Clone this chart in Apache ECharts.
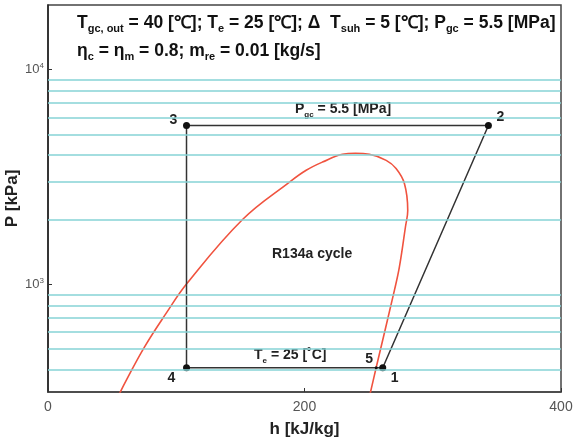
<!DOCTYPE html>
<html>
<head>
<meta charset="UTF-8">
<title>R134a cycle P-h</title>
<script src="https://cdn.jsdelivr.net/npm/echarts@6/dist/echarts.min.js"></script>
<style>html,body{margin:0;padding:0;background:#fff}#main{width:575px;height:441px}</style>
</head>
<body>
<div id="main"></div>
<script>
// saturation dome (h kJ/kg, P kPa)
var domeH = [54.5, 61.1, 75.3, 92.2, 108.3, 151.9, 188.3, 201.3, 214.0, 229.6, 239.7, 250.6, 263.7, 271.4, 277.9, 280.5, 278.7, 274.0, 270.1, 255.9, 250.6];
var domeP = [300, 359, 513, 736, 1011, 2014, 2999, 3404, 3716, 4037, 4083, 4037, 3784, 3467, 2952, 2213, 1853, 1208, 940, 411, 300];

// cycle states 1 -> 2 -> 3 -> 4 -> 5 -> 1
var cycleNames = ['1', '2', '3', '4', '5', '1'];
var cycleH = [261, 343.4, 108, 108, 255.9, 261];
var cycleP = [410, 5500, 5500, 410, 410, 410];

// cyan pressure lines
var isobarP = [300, 400, 500, 600, 700, 800, 900, 2000, 3000, 4000, 5000, 6000, 7000, 8000, 9000];

var xTicks = [0, 200, 400];

var labelOffsets = {
    0: [12, 10], 1: [12, -8], 2: [-13, -5], 3: [-15, 10], 4: [-7, -9]
};

var myChart = echarts.init(document.getElementById('main'));

var domeData = domeH.map(function (h, i) { return [h, domeP[i]]; });
var cycleData = cycleH.map(function (h, i) {
    var last = i === cycleH.length - 1;
    return {
        name: cycleNames[i],
        value: [h, cycleP[i]],
        symbolSize: last ? 0 : (i === 4 ? 3 : 7),
        label: {
            show: !last,
            offset: labelOffsets[i] || [0, 0]
        }
    };
});

var F = 'Liberation Sans, Arial, sans-serif';

function sub(size, color) {
    return {
        n: { fontFamily: F, fontSize: size, fontWeight: 'bold', fill: color, lineHeight: size + 5 },
        s: { fontFamily: F, fontSize: Math.round(size * 0.6), fontWeight: 'bold', fill: color, lineHeight: Math.round(size * 0.5), verticalAlign: 'bottom' }
    };
}

option = {
    animation: false,
    grid: {
        left: 48, right: 14, top: 5, bottom: 49,
        outerBoundsMode: 'none',
        show: true, borderColor: '#444', borderWidth: 1.5
    },
    xAxis: {
        type: 'value',
        min: xTicks[0], max: xTicks[xTicks.length - 1], interval: 200,
        name: 'h [kJ/kg]', nameLocation: 'middle', nameGap: 29,
        nameTextStyle: { fontFamily: F, fontWeight: 'bold', fontSize: 17, color: '#222' },
        axisLine: { lineStyle: { color: '#444', width: 1.5 } },
        axisTick: { inside: true, length: 4, lineStyle: { color: '#333' } },
        axisLabel: { fontFamily: F, fontSize: 14, color: '#555', margin: 8 },
        splitLine: { show: false }
    },
    yAxis: {
        type: 'log', logBase: 10,
        min: 316.23, max: 20000,
        name: 'P [kPa]', nameLocation: 'middle', nameGap: 27,
        nameMoveOverlap: false,
        nameTextStyle: { fontFamily: F, fontWeight: 'bold', fontSize: 17, color: '#222' },
        axisLine: { lineStyle: { color: '#222', width: 1.5 } },
        axisTick: { inside: true, length: 4, lineStyle: { color: '#333' } },
        axisLabel: {
            showMinLabel: false, showMaxLabel: false, margin: 4,
            formatter: function (v) {
                var lg = Math.log10(v), e = Math.round(lg);
                if (Math.abs(lg - e) > 1e-6) return '';
                return '{b|10}{e|' + e + '}';
            },
            rich: {
                b: { fontFamily: F, fontSize: 13, color: '#555', lineHeight: 16 },
                e: { fontFamily: F, fontSize: 8, color: '#555', lineHeight: 9, verticalAlign: 'top' }
            }
        },
        splitLine: { show: false }
    },
    series: [{
        type: 'line',
        data: [],
        silent: true,
        markLine: {
            silent: true,
            symbol: 'none',
            label: { show: false },
            lineStyle: { color: '#86d3d6', width: 1.5, type: 'solid' },
            data: isobarP.map(function (p) { return { yAxis: p }; })
        }
    }, {
        name: 'dome',
        type: 'line',
        data: domeData,
        smooth: 0.4,
        showSymbol: false,
        lineStyle: { color: '#f0533f', width: 1.6 },
        z: 3
    }, {
        name: 'cycle',
        type: 'line',
        data: cycleData,
        symbol: 'circle',
        itemStyle: { color: '#111' },
        lineStyle: { color: '#333', width: 1.5 },
        label: {
            position: 'inside', formatter: '{b}',
            fontFamily: F, fontSize: 14, fontWeight: 'bold', color: '#222'
        },
        z: 4
    }],
    graphic: [{
        type: 'text', left: 77, top: 14,
        style: {
            text: '{n|T}{s|gc, out}{n| = 40 [℃]; T}{s|e}{n| = 25 [℃]; Δ  T}{s|suh}{n| = 5 [℃]; P}{s|gc}{n| = 5.5 [MPa]}',
            rich: sub(17.5, '#111')
        }
    }, {
        type: 'text', left: 77, top: 42,
        style: {
            text: '{n|η}{s|c}{n| = η}{s|m}{n| = 0.8; m}{s|re}{n| = 0.01 [kg/s]}',
            rich: sub(17.5, '#111')
        }
    }, {
        type: 'text', left: 295, top: 102,
        style: {
            text: '{n|P}{s|gc}{n| = 5.5 [MPa]}',
            rich: sub(14, '#222')
        }
    }, {
        type: 'text', left: 254, top: 348,
        style: {
            text: '{n|T}{s|e}{n| = 25 [˚C]}',
            rich: sub(14, '#222')
        }
    }, {
        type: 'text', left: 272, top: 247,
        style: { text: 'R134a cycle', font: 'bold 14px ' + F, fill: '#222' }
    }]
};

myChart.setOption(option);
</script>
</body>
</html>
